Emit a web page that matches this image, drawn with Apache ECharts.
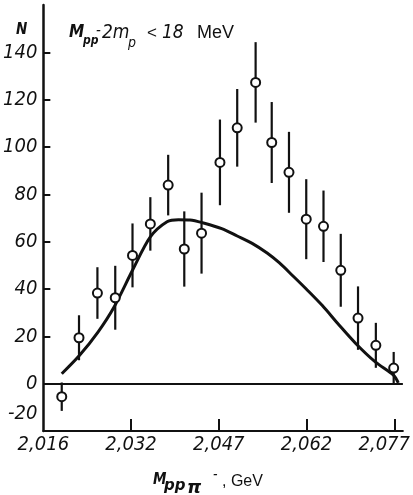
<!DOCTYPE html>
<html>
<head>
<meta charset="utf-8">
<script src="https://cdn.jsdelivr.net/npm/echarts@6/dist/echarts.min.js"></script>
<style>
  html, body { margin: 0; padding: 0; background: #fff; }
  #chart { width: 413px; height: 495px; }
</style>
</head>
<body>
<div id="chart"></div>
<script>
// mass of p p pi- system, MeV (x) and event counts N (y)
const pointMass = [2019.2, 2022.2, 2025.4, 2028.5, 2031.5, 2034.6, 2037.7, 2040.5, 2043.5, 2046.7,
  2049.7, 2052.9, 2055.7, 2058.7, 2061.7, 2064.7, 2067.7, 2070.7, 2073.8, 2076.9]
const pointN = [-5.5, 19.4, 38.3, 36.3, 54.2, 67.5, 83.9, 56.9, 63.6, 93.5,
  108.1, 127.3, 101.9, 89.3, 69.5, 66.5, 47.9, 27.7, 16.2, 6.6]
const pointErr = [6, 9.5, 10.9, 13.5, 13.5, 11.3, 12.8, 15.9, 17.1, 18.1,
  16.4, 17, 17.1, 17.1, 16.9, 15.1, 15.4, 13.4, 9.5, 6.8]

// model curve
const curveMass = [2019.2, 2022.3, 2025.5, 2028.3, 2031.5, 2034.6,
  2037.5, 2039.5, 2041.5, 2044, 2047, 2049.7, 2052.3, 2054.9, 2057, 2059.4, 2061.7,
  2064.5, 2067.4, 2070.3, 2073.7, 2076.9, 2077.7]
const curveN = [4.2, 12, 21.8, 32.4, 47.9, 62,
  68.4, 69.3, 69.2, 67.8, 65.5, 62.4, 59.3, 55.2, 51.1, 45.5, 40,
  33, 24.8, 17, 9.2, 3.5, 0.3]

const xTickPos = [2016, 2031.25, 2046.5, 2061.75, 2077]
const xTickLabels = ['2,016', '2,032', '2,047', '2,062', '2,077']
const yTickValues = [0, 20, 40, 60, 80, 100, 120, 140]
const yLabelValues = [-20, 0, 20, 40, 60, 80, 100, 120, 140]

const numFont = "'DejaVu Sans Condensed', 'DejaVu Sans', sans-serif"
const plainFont = "'Liberation Sans', Arial, sans-serif"

const chart = echarts.init(document.getElementById('chart'), null, { renderer: 'canvas' })

const txt = (x, y, text, size, opt) => ({
  type: 'text',
  left: x,
  top: y,
  style: Object.assign({
    text: text,
    fontSize: size,
    fontFamily: numFont,
    fontStyle: 'italic',
    fontWeight: 'bold',
    fill: '#111',
    verticalAlign: 'middle'
  }, opt || {})
})

const labelStyle = { fontSize: 20, fontStyle: 'italic', fontFamily: numFont, color: '#111' }

const option = {
  animation: false,
  backgroundColor: '#fff',
  grid: { left: 43, right: 5, top: 5, bottom: 64 },
  xAxis: {
    type: 'value',
    min: 2016,
    max: 2078.5,
    splitLine: { show: false },
    axisLine: { onZero: false, lineStyle: { color: '#111', width: 2 } },
    axisTick: {
      inside: true,
      length: 12,
      customValues: xTickPos.slice(1),
      lineStyle: { color: '#111', width: 2 }
    },
    axisLabel: Object.assign({
      customValues: xTickPos,
      margin: 4,
      formatter: v => {
        const i = xTickPos.findIndex(p => Math.abs(p - v) < 0.01)
        const s = i >= 0 ? xTickLabels[i] : ''
        return i === xTickPos.length - 1 ? '{r|' + s + '}' : s
      },
      rich: { r: Object.assign({ padding: [0, 20, 0, 0] }, labelStyle) }
    }, labelStyle)
  },
  yAxis: {
    type: 'value',
    min: -20,
    max: 160,
    splitLine: { show: false },
    axisLine: { onZero: false, lineStyle: { color: '#111', width: 2.5 } },
    axisTick: {
      inside: true,
      length: 7,
      customValues: yTickValues,
      lineStyle: { color: '#111', width: 2 }
    },
    axisLabel: Object.assign({
      customValues: yLabelValues,
      margin: 6,
      formatter: v => (v === -20 ? '{lo|-20}' : String(v)),
      rich: { lo: Object.assign({ padding: [0, 0, 35, 0] }, labelStyle) }
    }, labelStyle)
  },
  series: [
    {
      type: 'line',
      data: curveMass.map((m, i) => [m, curveN[i]]),
      smooth: 0.3,
      symbol: 'none',
      lineStyle: { color: '#111', width: 3 },
      z: 2,
      markLine: {
        silent: true,
        symbol: 'none',
        label: { show: false },
        lineStyle: { color: '#111', width: 2, type: 'solid' },
        data: [{ yAxis: 0 }]
      }
    },
    {
      type: 'custom',
      data: pointMass.map((m, i) => [m, pointN[i], pointErr[i]]),
      z: 3,
      renderItem: (params, api) => {
        const top = api.coord([api.value(0), api.value(1) + api.value(2)])
        const bot = api.coord([api.value(0), Math.max(api.value(1) - api.value(2), -20)])
        return {
          type: 'line',
          shape: { x1: top[0], y1: top[1], x2: bot[0], y2: bot[1] },
          style: { stroke: '#111', lineWidth: 2.2 }
        }
      }
    },
    {
      type: 'scatter',
      data: pointMass.map((m, i) => [m, pointN[i]]),
      symbol: 'circle',
      symbolSize: 9,
      z: 4,
      itemStyle: { color: '#fff', borderColor: '#111', borderWidth: 2, opacity: 1 }
    }
  ],
  graphic: [
    txt(16, 23, 'N', 15),
    txt(69, 24, 'M', 17),
    txt(83, 35, 'pp', 12),
    txt(96, 24, '-', 15, { fontWeight: 'normal' }),
    txt(102, 24, '2m', 19, { fontWeight: 'normal' }),
    txt(128, 36, 'p', 14, { fontWeight: 'normal' }),
    txt(147, 25, '<', 17, { fontStyle: 'normal', fontWeight: 'normal', fontFamily: plainFont }),
    txt(162, 24, '18', 19, { fontWeight: 'normal' }),
    txt(197, 24, 'MeV', 18, { fontStyle: 'normal', fontWeight: 'normal', fontFamily: plainFont }),
    txt(153, 473, 'M', 15),
    txt(164, 479, 'pp', 15, { fontFamily: "'DejaVu Sans', sans-serif" }),
    txt(187, 479, 'π', 18, { fontFamily: "'DejaVu Sans', sans-serif" }),
    txt(213, 468, '-', 14, { fontWeight: 'normal' }),
    txt(222, 474, ', GeV', 16, { fontStyle: 'normal', fontWeight: 'normal', fontFamily: plainFont })
  ]
}

chart.setOption(option)
</script>
</body>
</html>
